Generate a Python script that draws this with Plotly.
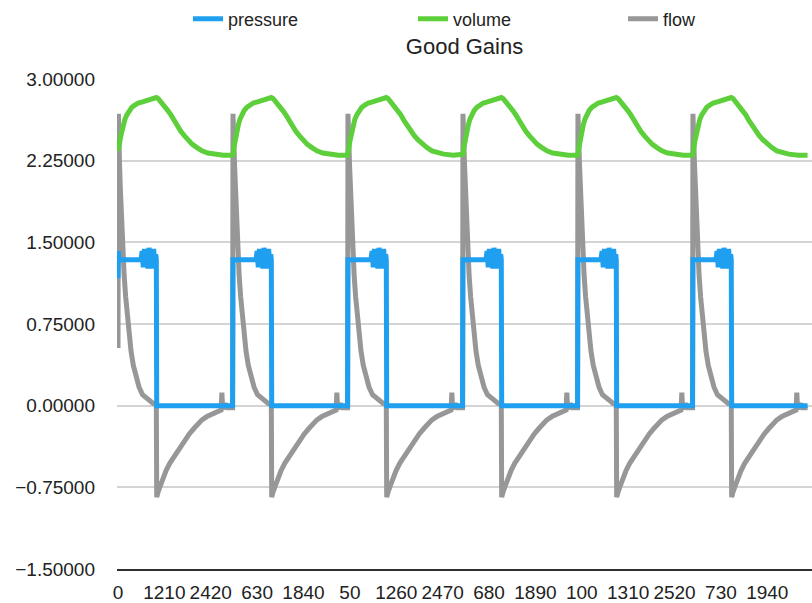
import plotly.graph_objects as go

# ---- data -------------------------------------------------------------
CYCLE_MS = 3000          # one breath every 3 s, sampled in ms
N_CYCLES = 6
LABEL_STEP_MS = 1210     # a category label every 121 samples (10 ms each)

X_TICK_LABELS = ["0", "1210", "2420", "630", "1840", "50", "1260", "2470",
                 "680", "1890", "100", "1310", "2520", "730", "1940"]
Y_TICKS = [-1.5, -0.75, 0.0, 0.75, 1.5, 2.25, 3.0]

# pressure over one breath (time in ms from the start of the breath)
pressure_t = [0, 600, 630, 660, 690, 720, 750, 780, 810, 840, 870, 900,
              930, 960, 985, 1000, 1010, 2990]
pressure_v = [1.34, 1.34, 1.42, 1.27, 1.44, 1.30, 1.40, 1.26, 1.45, 1.29,
              1.41, 1.26, 1.44, 1.31, 1.39, 1.34, 0.0, 0.0]
pressure_head_t = [0, 10, 20]
pressure_head_v = [1.17, 1.42, 1.34]

# volume over one breath
volume_t = [0, 25, 50, 75, 100, 140, 180, 230, 290, 360, 440, 530, 640, 760,
            880, 1000, 1050, 1100, 1160, 1230, 1300, 1380, 1460, 1550, 1640,
            1730, 1830, 1940, 2060, 2190, 2340, 2500, 2750, 2990]
volume_v = [2.31, 2.37, 2.43, 2.48, 2.52, 2.58, 2.63, 2.67, 2.71, 2.74, 2.76,
            2.78, 2.79, 2.80, 2.81, 2.83, 2.82, 2.80, 2.77, 2.74, 2.71, 2.67,
            2.62, 2.57, 2.52, 2.48, 2.44, 2.40, 2.37, 2.34, 2.32, 2.31, 2.30,
            2.30]
volume_head_t = [0]
volume_head_v = [2.34]

# flow over one breath
flow_t = [0, 20, 40, 60, 80, 100, 130, 160, 200, 240, 290, 340, 400, 470,
          550, 640, 730, 830, 920, 1000, 1010, 1040, 1100, 1170, 1250, 1350,
          1480, 1600, 1740, 1860, 1980, 2090, 2190, 2320, 2450, 2550, 2630,
          2690, 2710, 2730, 2800, 2850, 2990]
flow_v = [2.68, 2.45, 2.22, 2.00, 1.80, 1.62, 1.40, 1.20, 1.00, 0.83, 0.65,
          0.50, 0.37, 0.26, 0.17, 0.10, 0.07, 0.04, 0.02, 0.02, -0.84, -0.80,
          -0.74, -0.67, -0.60, -0.53, -0.46, -0.39, -0.32, -0.26, -0.21,
          -0.17, -0.13, -0.10, -0.08, -0.06, -0.05, -0.04, 0.12, -0.03, 0.02,
          -0.02, -0.02]
flow_head_t = [0, 10]
flow_head_v = [0.53, 2.68]

# ---- styling ----------------------------------------------------------
BLUE = "#1f9ff0"
GREEN = "#5ccf3a"
GRAY = "#979797"
TEXT = "#222222"
FONT = "Liberation Sans, Arial, Helvetica, sans-serif"

W, H = 812, 603
PLOT_L, PLOT_R, PLOT_T, PLOT_B = 117, 812, 79, 574


def recording(cyc_t, cyc_v, head_t, head_v):
    """Lay the breath cycle end to end; the first breath opens with its own samples."""
    xs, ys = [], []
    for k in range(N_CYCLES):
        start = k * CYCLE_MS
        if k == 0:
            xs += list(head_t)
            ys += list(head_v)
            pts = [(t, v) for t, v in zip(cyc_t, cyc_v) if t > head_t[-1]]
        else:
            pts = list(zip(cyc_t, cyc_v))
        for t, v in pts:
            xs.append(start + t)
            ys.append(v)
    return xs, ys


fig = go.Figure()

series = [
    ("flow", flow_t, flow_v, flow_head_t, flow_head_v, GRAY, "legend3"),
    ("pressure", pressure_t, pressure_v, pressure_head_t, pressure_head_v, BLUE, "legend"),
    ("volume", volume_t, volume_v, volume_head_t, volume_head_v, GREEN, "legend2"),
]
for name, ct, cv, ht, hv, color, leg in series:
    xs, ys = recording(ct, cv, ht, hv)
    fig.add_trace(go.Scatter(
        x=xs, y=ys, mode="lines", name=name, legend=leg, showlegend=True,
        line=dict(color=color, width=5),
        hoverinfo="skip",
    ))

ms_per_px = 26.09
x_lo = -(1 * ms_per_px)
x_hi = (PLOT_R - PLOT_L - 1) * ms_per_px

tick_ms = [k * LABEL_STEP_MS for k in range(len(X_TICK_LABELS))]


def legend_at(left_px):
    return dict(
        xref="container", yref="container",
        x=left_px / W, y=1 - 19 / H, xanchor="left", yanchor="middle",
        orientation="h", bgcolor="rgba(0,0,0,0)", borderwidth=0,
        font=dict(family=FONT, size=18, color=TEXT),
    )


fig.update_layout(
    width=W, height=H, autosize=False, showlegend=True,
    margin=dict(l=PLOT_L, r=W - PLOT_R, t=PLOT_T, b=H - PLOT_B, pad=0),
    paper_bgcolor="white", plot_bgcolor="white",
    font=dict(family=FONT, size=19, color=TEXT),
    title=dict(text="Good Gains", xref="paper", x=0.5, xanchor="center",
               yref="container", y=1 - 46 / H, yanchor="middle",
               font=dict(family=FONT, size=22, color=TEXT)),
    legend=legend_at(188),
    legend2=legend_at(413),
    legend3=legend_at(623),
    xaxis=dict(
        range=[x_lo, x_hi], tickmode="array", tickvals=tick_ms,
        ticktext=X_TICK_LABELS, tickangle=0, showgrid=False,
        zeroline=False, showline=True, linecolor="#2e2e2e", linewidth=1.5,
        ticks="", ticklabelstandoff=5,
        tickfont=dict(family=FONT, size=19, color=TEXT),
    ),
    yaxis=dict(
        range=[-1.5, 3.0], tickmode="array", tickvals=Y_TICKS,
        tickformat=".5f", showgrid=True, gridcolor="#d4d4d4", gridwidth=1.5,
        zeroline=False, showline=False, ticks="", ticklabelstandoff=21,
        tickfont=dict(family=FONT, size=19, color=TEXT),
    ),
)

fig.write_html("out.html")
